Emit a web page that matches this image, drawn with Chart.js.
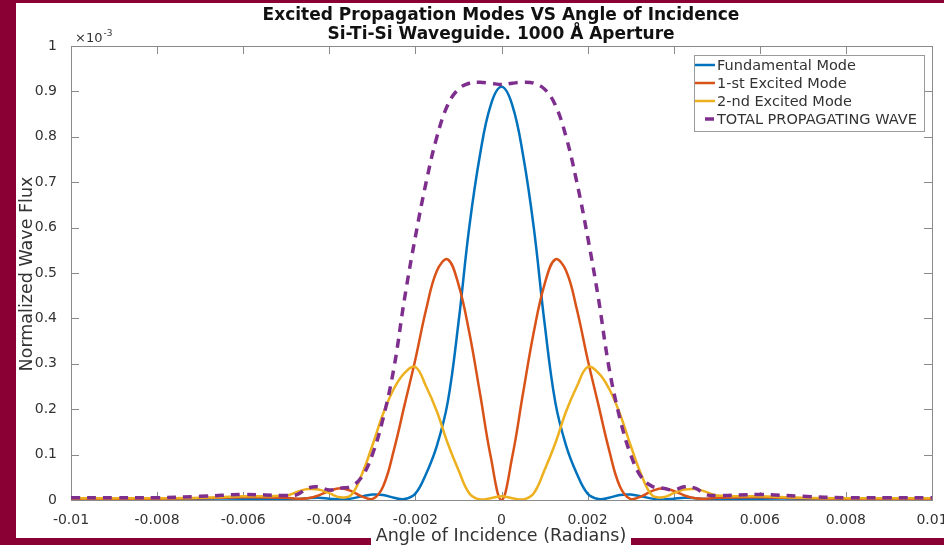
<!DOCTYPE html>
<html lang="en">
<head>
    <meta charset="UTF-8">
    <title>Excited Propagation Modes</title>
    <script src="https://cdn.jsdelivr.net/npm/chart.js@4.4.0/dist/chart.umd.min.js"></script>
    <style>
        * { margin: 0; padding: 0; box-sizing: border-box; }
        body { width: 944px; height: 545px; background: #8b0034; overflow: hidden; position: relative; }
        #chart { position: absolute; left: 16px; top: 3px; }
    </style>
</head>
<body>
<canvas id="chart" width="928" height="542"></canvas>
<script>
// angle of incidence (radians)
const angles = [
    -0.010, -0.009, -0.008, -0.007, -0.006,
    -0.005, -0.00475, -0.0045, -0.00425, -0.004, -0.00375, -0.0035, -0.00325, -0.003, -0.00275,
    -0.0025, -0.00225, -0.002, -0.00175, -0.0015, -0.00125, -0.001, -0.00075, -0.0005, -0.00025,
    0,
    0.00025, 0.0005, 0.00075, 0.001, 0.00125, 0.0015, 0.00175, 0.002, 0.00225, 0.0025,
    0.00275, 0.003, 0.00325, 0.0035, 0.00375, 0.004, 0.00425, 0.0045, 0.00475, 0.005,
    0.006, 0.007, 0.008, 0.009, 0.010
]

// normalized flux, x10^-3
const fundamental = [
    0.002, 0.002, 0.002, 0.003, 0.003,
    0.002, 0.002, 0.004, 0.005, 0.003, 0.001, 0.003, 0.008, 0.012, 0.011,
    0.005, 0.002, 0.014, 0.058, 0.12, 0.215, 0.39, 0.60, 0.76, 0.87,
    0.91,
    0.87, 0.76, 0.60, 0.39, 0.215, 0.12, 0.058, 0.014, 0.002, 0.005,
    0.011, 0.012, 0.008, 0.003, 0.001, 0.003, 0.005, 0.004, 0.002, 0.002,
    0.003, 0.003, 0.002, 0.002, 0.002
]
const firstExcited = [
    0.003, 0.003, 0.003, 0.004, 0.006,
    0.005, 0.003, 0.004, 0.01, 0.02, 0.026, 0.02, 0.008, 0.002, 0.03,
    0.11, 0.21, 0.31, 0.42, 0.505, 0.53, 0.475, 0.37, 0.235, 0.095,
    0.0,
    0.095, 0.235, 0.37, 0.475, 0.53, 0.505, 0.42, 0.31, 0.21, 0.11,
    0.03, 0.002, 0.008, 0.02, 0.026, 0.02, 0.01, 0.004, 0.003, 0.005,
    0.006, 0.004, 0.003, 0.003, 0.003
]
const secondExcited = [
    0.004, 0.004, 0.004, 0.005, 0.008,
    0.01, 0.018, 0.024, 0.023, 0.015, 0.006, 0.01, 0.055, 0.12, 0.19,
    0.245, 0.28, 0.293, 0.25, 0.195, 0.125, 0.066, 0.015, 0.001, 0.004,
    0.008,
    0.004, 0.001, 0.015, 0.066, 0.125, 0.195, 0.25, 0.293, 0.28, 0.245,
    0.19, 0.12, 0.055, 0.01, 0.006, 0.015, 0.023, 0.024, 0.018, 0.01,
    0.008, 0.005, 0.004, 0.004, 0.004
]
const totalWave = [
    0.005, 0.005, 0.005, 0.008, 0.012,
    0.01, 0.012, 0.026, 0.029, 0.022, 0.026, 0.03, 0.05, 0.10, 0.18,
    0.29, 0.445, 0.58, 0.70, 0.80, 0.87, 0.905, 0.918, 0.92, 0.918,
    0.915,
    0.918, 0.92, 0.918, 0.905, 0.87, 0.80, 0.70, 0.58, 0.445, 0.29,
    0.18, 0.10, 0.05, 0.03, 0.026, 0.022, 0.029, 0.026, 0.012, 0.01,
    0.012, 0.008, 0.005, 0.005, 0.005
]

const seriesLabels = ['Fundamental Mode', '1-st Excited Mode', '2-nd Excited Mode', 'TOTAL PROPAGATING WAVE']
const xTickValues = [-0.01, -0.008, -0.006, -0.004, -0.002, 0, 0.002, 0.004, 0.006, 0.008, 0.01]
const yTickValues = [0, 0.1, 0.2, 0.3, 0.4, 0.5, 0.6, 0.7, 0.8, 0.9, 1]

const FONT = 'DejaVu Sans'
const fmt = v => String(+v.toFixed(4))
const pts = arr => angles.map((a, i) => ({ x: a, y: arr[i] }))

// white page, axes box with inward ticks, titles and legend
const decor = {
    id: 'decor',
    beforeDraw(chart) {
        const ctx = chart.ctx
        ctx.save()
        ctx.fillStyle = '#fff'
        ctx.fillRect(0, 0, chart.width, 535)
        ctx.fillRect(355, 535, 260, 10)
        ctx.restore()
    },
    beforeDatasetsDraw(chart) {
        const ctx = chart.ctx
        const a = chart.chartArea
        const xs = chart.scales.x, ys = chart.scales.y
        ctx.save()
        ctx.strokeStyle = '#8a8a8a'
        ctx.lineWidth = 1
        ctx.strokeRect(a.left + 0.5, a.top + 0.5, a.right - a.left, a.bottom - a.top)
        ctx.beginPath()
        xs.ticks.forEach(t => {
            const px = Math.round(xs.getPixelForValue(t.value)) + 0.5
            ctx.moveTo(px, a.bottom); ctx.lineTo(px, a.bottom - 8)
            ctx.moveTo(px, a.top); ctx.lineTo(px, a.top + 8)
        })
        ys.ticks.forEach(t => {
            const py = Math.round(ys.getPixelForValue(t.value)) + 0.5
            ctx.moveTo(a.left, py); ctx.lineTo(a.left + 8, py)
            ctx.moveTo(a.right, py); ctx.lineTo(a.right - 8, py)
        })
        ctx.stroke()
        ctx.restore()
    },
    afterDraw(chart) {
        const ctx = chart.ctx
        const a = chart.chartArea
        ctx.save()
        ctx.textAlign = 'center'
        ctx.textBaseline = 'middle'
        ctx.fillStyle = '#111'
        ctx.font = 'bold 17px ' + FONT
        ctx.fillText('Excited Propagation Modes VS Angle of Incidence', 485, 13)
        ctx.fillText('Si-Ti-Si Waveguide. 1000 Å Aperture', 485, 32)

        ctx.fillStyle = '#333'
        ctx.font = '17.5px ' + FONT
        ctx.fillText('Angle of Incidence (Radians)', 485, 533)
        ctx.save()
        ctx.translate(11, 271)
        ctx.rotate(-Math.PI / 2)
        ctx.fillText('Normalized Wave Flux', 0, 0)
        ctx.restore()

        // exponent marker
        ctx.textAlign = 'left'
        ctx.textBaseline = 'alphabetic'
        ctx.font = '13px ' + FONT
        ctx.fillText('×10', a.left + 4, a.top - 4)
        const w = ctx.measureText('×10').width
        ctx.font = '9px ' + FONT
        ctx.fillText('-3', a.left + 4 + w + 1, a.top - 10)

        // legend
        const lx = 678, ly = 52, lw = 230, lh = 76
        ctx.fillStyle = '#fff'
        ctx.fillRect(lx, ly, lw, lh)
        ctx.strokeStyle = '#9a9a9a'
        ctx.lineWidth = 1
        ctx.strokeRect(lx + 0.5, ly + 0.5, lw, lh)
        ctx.font = '14.5px ' + FONT
        ctx.textBaseline = 'middle'
        chart.data.datasets.forEach((ds, i) => {
            const y = ly + 10 + i * 18
            ctx.strokeStyle = ds.borderColor
            ctx.lineWidth = ds.borderWidth
            ctx.beginPath()
            if (ds.borderDash) { ctx.moveTo(lx + 11, y); ctx.lineTo(lx + 20, y) }
            else { ctx.moveTo(lx + 1, y); ctx.lineTo(lx + 21, y) }
            ctx.stroke()
            ctx.fillStyle = '#333'
            ctx.fillText(ds.label, lx + 23, y + 1)
        })
        ctx.restore()
    }
}

const line = (label, data, color, order, extra) => Object.assign({
    label: label,
    data: pts(data),
    borderColor: color,
    borderWidth: 2.5,
    pointRadius: 0,
    fill: false,
    tension: 0.4,
    order: order
}, extra || {})

new Chart(document.getElementById('chart'), {
    type: 'line',
    data: {
        datasets: [
            line(seriesLabels[0], fundamental, '#0072BD', 3),
            line(seriesLabels[1], firstExcited, '#D95319', 2),
            line(seriesLabels[2], secondExcited, '#EDB120', 1),
            line(seriesLabels[3], totalWave, '#7E2F8E', 0, { borderWidth: 3.5, borderDash: [9, 7] })
        ]
    },
    options: {
        responsive: false,
        animation: false,
        devicePixelRatio: 1,
        events: [],
        layout: { autoPadding: false, padding: { left: 0, right: 12, top: 43, bottom: 15 } },
        plugins: { legend: { display: false }, title: { display: false }, tooltip: { enabled: false } },
        scales: {
            x: {
                type: 'linear',
                min: -0.01, max: 0.01,
                grid: { display: false },
                border: { display: false },
                afterBuildTicks: s => { s.ticks = xTickValues.map(v => ({ value: v })) },
                afterFit: s => { s.height = 30; s.paddingLeft = 0; s.paddingRight = 0 },
                ticks: { callback: fmt, color: '#333', font: { family: FONT, size: 14 }, padding: 4, maxRotation: 0, autoSkip: false }
            },
            y: {
                min: 0, max: 1,
                grid: { display: false },
                border: { display: false },
                afterBuildTicks: s => { s.ticks = yTickValues.map(v => ({ value: v })) },
                afterFit: s => { s.width = 55; s.paddingTop = 0; s.paddingBottom = 0 },
                ticks: { callback: fmt, color: '#333', font: { family: FONT, size: 14 }, padding: 6 }
            }
        }
    },
    plugins: [decor]
})
</script>
</body>
</html>
